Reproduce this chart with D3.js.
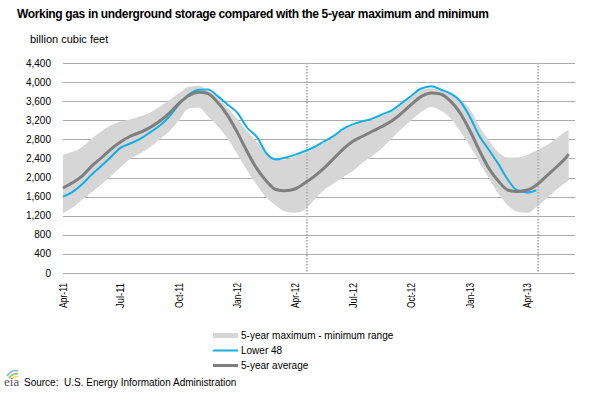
<!DOCTYPE html>
<html lang="en">
<head>
<meta charset="utf-8">
<script src="https://d3js.org/d3.v7.min.js"></script>
<style>
  body { margin: 0; background: #fff; }
  text { font-family: "Liberation Sans", Arial, sans-serif; fill: #000; }
  .grid line { stroke: #ababab; stroke-width: 1px; shape-rendering: crispEdges; }
</style>
</head>
<body>
<script>
// half-monthly readings, billion cubic feet
var dates = ["2011-04-01","2011-04-15","2011-05-01","2011-05-15","2011-06-01","2011-06-15","2011-07-01","2011-07-15",
  "2011-08-01","2011-08-15","2011-09-01","2011-09-15","2011-10-01","2011-10-15","2011-11-01","2011-11-15",
  "2011-12-01","2011-12-15","2012-01-01","2012-01-15","2012-02-01","2012-02-15","2012-03-01","2012-03-15",
  "2012-04-01","2012-04-15","2012-05-01","2012-05-15","2012-06-01","2012-06-15","2012-07-01","2012-07-15",
  "2012-08-01","2012-08-15","2012-09-01","2012-09-15","2012-10-01","2012-10-15","2012-11-01","2012-11-15",
  "2012-12-01","2012-12-15","2013-01-01","2013-01-15","2013-02-01","2013-02-15","2013-03-01","2013-03-15",
  "2013-04-01","2013-04-15","2013-05-01","2013-05-15","2013-06-01","2013-06-05"];

var lower48 = [1600,1690,1860,2046,2252,2427,2627,2708,2814,2936,3097,3271,3540,3729,3840,3844,3700,3541,
  3350,3059,2835,2510,2380,2415,2480,2550,2640,2750,2880,3020,3120,3175,3240,3320,3420,3560,3720,3860,3915,3845,3760,3620,
  3260,2880,2550,2270,1960,1740,1687,1735];

var avg5 = [1780,1885,2030,2225,2420,2590,2750,2860,2950,3040,3190,3345,3560,3710,3789,3760,3565,3325,
  2930,2565,2170,1930,1750,1722,1765,1880,2030,2185,2410,2595,2765,2860,2975,3070,3200,3350,3540,3690,3770,3750,3600,3375,
  2970,2580,2160,1918,1740,1709,1740,1840,2030,2200,2420,2490];

var max5 = [2479,2535,2640,2805,2975,3090,3175,3214,3285,3355,3495,3620,3770,3895,3925,3820,3665,3480,
  3220,2980,2730,2530,2400,2380,2450,2520,2610,2720,2850,2990,3090,3145,3210,3290,3390,3530,3690,3830,3870,3820,3740,3640,
  3420,3080,2750,2520,2420,2420,2480,2560,2670,2800,2970,3000];

var min5 = [1254,1360,1535,1680,1865,2020,2220,2385,2510,2630,2810,2965,3205,3440,3470,3290,3070,2840,
  2480,2170,1830,1580,1420,1290,1260,1324,1540,1730,1884,2010,2150,2305,2460,2615,2835,3020,3210,3365,3480,3410,3250,2990,
  2650,2330,1950,1650,1420,1290,1260,1380,1560,1730,1900,1940];

var yTicks = [0,400,800,1200,1600,2000,2400,2800,3200,3600,4000,4400];
var markerDates = ["2012-04-19","2013-04-18"];
var legendLabels = ["5-year maximum - minimum range","Lower 48","5-year average"];

var width = 594, height = 393;
var parse = d3.timeParse("%Y-%m-%d");

var svg = d3.select("body").append("svg")
  .attr("width", width)
  .attr("height", height);

var x = d3.scaleTime()
  .domain([parse("2011-04-01"), parse("2013-06-15")])
  .range([63, 575]);
var y = d3.scaleLinear().domain([0, 4400]).range([273, 63]);

var band = dates.map(function(d, i){ return {date: parse(d), hi: max5[i], lo: min5[i]}; });
var avgData = dates.map(function(d, i){ return {date: parse(d), v: avg5[i]}; });
var l48Data = lower48.map(function(v, i){ return {date: parse(dates[i]), v: v}; });

// title
svg.append("text")
  .attr("x", 17).attr("y", 18)
  .style("font-weight", "bold").style("font-size", "12px")
  .style("letter-spacing", "-0.35px")
  .text("Working gas in underground storage compared with the 5-year maximum and minimum");

svg.append("text")
  .attr("x", 30).attr("y", 43)
  .style("font-size", "11px")
  .text("billion cubic feet");

// gridlines + y labels
var grid = svg.append("g").attr("class", "grid");
grid.selectAll("line").data(yTicks).enter().append("line")
  .attr("x1", 63).attr("x2", 575)
  .attr("y1", function(d){ return Math.round(y(d)) + 0.5; })
  .attr("y2", function(d){ return Math.round(y(d)) + 0.5; });

svg.selectAll(".ylab").data(yTicks).enter().append("text")
  .attr("class", "ylab")
  .attr("x", 51)
  .attr("y", function(d){ return y(d) + 3.5; })
  .attr("text-anchor", "end")
  .style("font-size", "10px")
  .text(d3.format(","));

// x labels
var xTicks = x.ticks(d3.timeMonth.every(3));
svg.selectAll(".xlab").data(xTicks).enter().append("text")
  .attr("class", "xlab")
  .attr("transform", function(d){ return "translate(" + (x(d) + 3.5) + ",283) rotate(-90)"; })
  .attr("text-anchor", "end")
  .attr("textLength", 25)
  .attr("lengthAdjust", "spacingAndGlyphs")
  .style("font-size", "10.5px")
  .text(d3.timeFormat("%b-%y"));

// range band
var area = d3.area()
  .curve(d3.curveMonotoneX)
  .x(function(d){ return x(d.date); })
  .y0(function(d){ return y(d.lo); })
  .y1(function(d){ return y(d.hi); });

svg.append("path")
  .datum(band)
  .attr("d", area)
  .attr("fill", "#d6d6d6");

// dashed markers
svg.selectAll(".mark").data(markerDates).enter().append("line")
  .attr("class", "mark")
  .attr("x1", function(d){ return x(parse(d)); })
  .attr("x2", function(d){ return x(parse(d)); })
  .attr("y1", 63).attr("y2", 273)
  .attr("stroke", "#b5b5b5")
  .attr("stroke-width", 2)
  .attr("stroke-dasharray", "1.5,1.5");

var line = d3.line()
  .curve(d3.curveMonotoneX)
  .x(function(d){ return x(d.date); })
  .y(function(d){ return y(d.v); });

svg.append("path")
  .datum(l48Data)
  .attr("d", line)
  .attr("fill", "none")
  .attr("stroke", "#12aee8")
  .attr("stroke-width", 2);

svg.append("path")
  .datum(avgData)
  .attr("d", line)
  .attr("fill", "none")
  .attr("stroke", "#7f7f7f")
  .attr("stroke-width", 3);

// legend
var legendStyles = [
  {color: "#d6d6d6", w: 5},
  {color: "#12aee8", w: 2},
  {color: "#7f7f7f", w: 3}
];
var lg = svg.selectAll(".lg").data(legendLabels).enter().append("g")
  .attr("class", "lg")
  .attr("transform", function(d, i){ return "translate(213," + (335.5 + i * 15) + ")"; });
lg.append("line")
  .attr("x1", 0).attr("x2", 25)
  .attr("stroke", function(d, i){ return legendStyles[i].color; })
  .attr("stroke-width", function(d, i){ return legendStyles[i].w; });
lg.append("text")
  .attr("x", 28).attr("y", 3.5)
  .style("font-size", "10px")
  .text(function(d){ return d; });

// eia mark + source
var logo = svg.append("g").attr("transform", "translate(4,372)");
logo.append("path").attr("d", "M3,4 Q8,-3 14,-1").attr("fill", "none").attr("stroke", "#7ab8e0").attr("stroke-width", 1.5);
logo.append("path").attr("d", "M5,6 Q9,1 14,2").attr("fill", "none").attr("stroke", "#8cc63f").attr("stroke-width", 1.5);
logo.append("path").attr("d", "M8,7 Q11,4 14,5").attr("fill", "none").attr("stroke", "#f2c230").attr("stroke-width", 1.2);
logo.append("text")
  .attr("x", 0).attr("y", 14)
  .style("font-family", "'Liberation Serif', serif")
  .style("font-size", "13px")
  .style("fill", "#555")
  .text("eia");

svg.append("text")
  .attr("x", 24).attr("y", 386)
  .style("font-size", "10px")
  .attr("xml:space", "preserve")
  .text("Source:  U.S. Energy Information Administration");
</script>
</body>
</html>
